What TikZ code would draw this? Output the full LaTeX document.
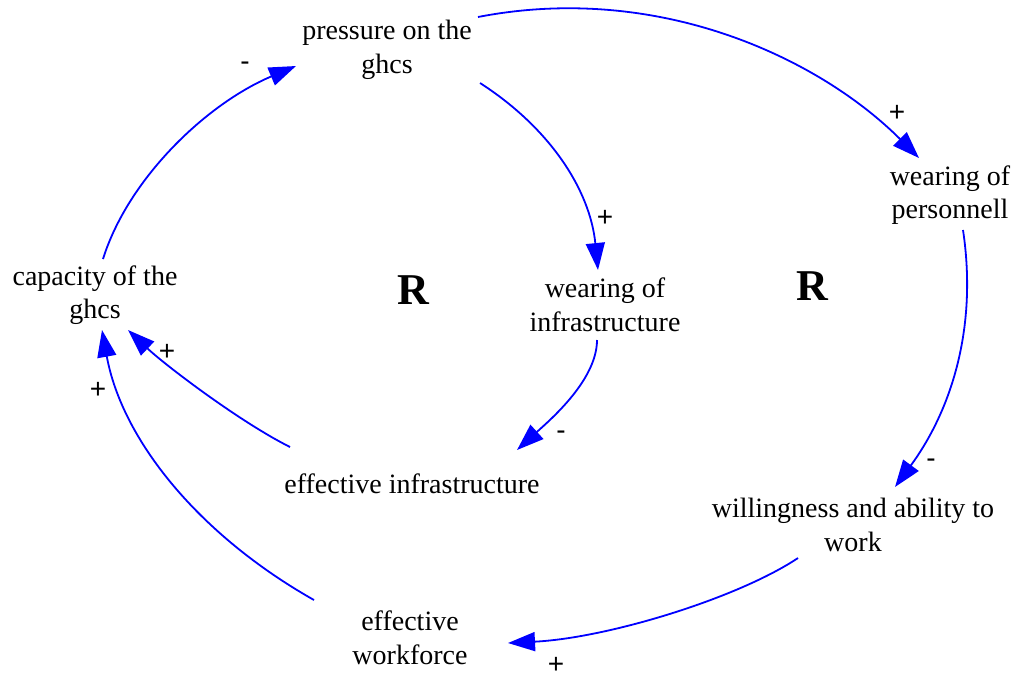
\documentclass[tikz,border=0pt]{standalone}
\usepackage{fontspec}
\setmainfont{Liberation Serif}
\newfontfamily\signfont{Liberation Sans}
\usetikzlibrary{arrows.meta,calc}
\definecolor{linkblue}{RGB}{0,0,255}
\begin{document}
\begin{tikzpicture}[x=0.5pt,y=-0.5pt,
  var/.style={align=center,inner sep=0pt,font=\fontsize{14}{16.8}\selectfont},
  loopmark/.style={font=\fontsize{22}{24}\selectfont\bfseries},
  sign/.style={font=\signfont\fontsize{14}{16}\selectfont,inner sep=0pt},
  link/.style={draw=linkblue,line width=0.9pt,
    -{Triangle[length=13.5pt,width=9.5pt]},fill=none}]
\path[use as bounding box] (0,0) rectangle (1016,676);

% variables
\node[var] (P)  at (387,50)  {pressure on the\\ghcs};
\node[var] (WP) at (950,195) {wearing of\\personnell};
\node[var] (C)  at (95,295)  {capacity of the\\ghcs};
\node[var] (WI) at (605,305) {wearing of\\infrastructure};
\node[var] (EI) at (412,484) {effective infrastructure};
\node[var] (W)  at (853,525) {willingness and ability to\\work};
\node[var] (EW) at (410,638) {effective\\workforce};

% loop markers
\node[loopmark] (R1) at (413,290) {R};
\node[loopmark] (R2) at (812,286) {R};

% causal links
\draw[link] ($(P.center)+(91,-33)$) .. controls +(180,-35) and +(-100,-100) .. ($(WP.center)+(-31,-37)$);
\draw[link] ($(P.center)+(93,33)$) .. controls +(70,45) and +(-8,-80) .. ($(WI.center)+(-7,-35)$);
\draw[link] ($(WI.center)+(-8,35)$) .. controls +(0,40) and +(33,-30) .. ($(EI.center)+(105,-34)$);
\draw[link] ($(EI.center)+(-122,-37)$) .. controls +(-50,-25) and +(37,35) .. ($(C.center)+(33,35)$);
\draw[link] ($(EW.center)+(-96,-38)$) .. controls +(-115,-65) and +(20,110) .. ($(C.center)+(7,35)$);
\draw[link] ($(C.center)+(8,-36)$) .. controls +(25,-80) and +(-90,38) .. ($(P.center)+(-91,16)$);
\draw[link] ($(WP.center)+(13,35)$) .. controls +(15,100) and +(55,-75) .. ($(W.center)+(42,-38)$);
\draw[link] ($(W.center)+(-55,33)$) .. controls +(-60,40) and +(100,-5) .. ($(EW.center)+(98,5)$);

% polarities
\node[sign] (s1) at (245,66)  {-};
\node[sign] (s2) at (897,113) {+};
\node[sign] (s3) at (605,218) {+};
\node[sign] (s4) at (561,435) {-};
\node[sign] (s5) at (167,352) {+};
\node[sign] (s6) at (931,463) {-};
\node[sign] (s7) at (556,665) {+};
\node[sign] (s8) at (98,390)  {+};
\end{tikzpicture}
\end{document}
